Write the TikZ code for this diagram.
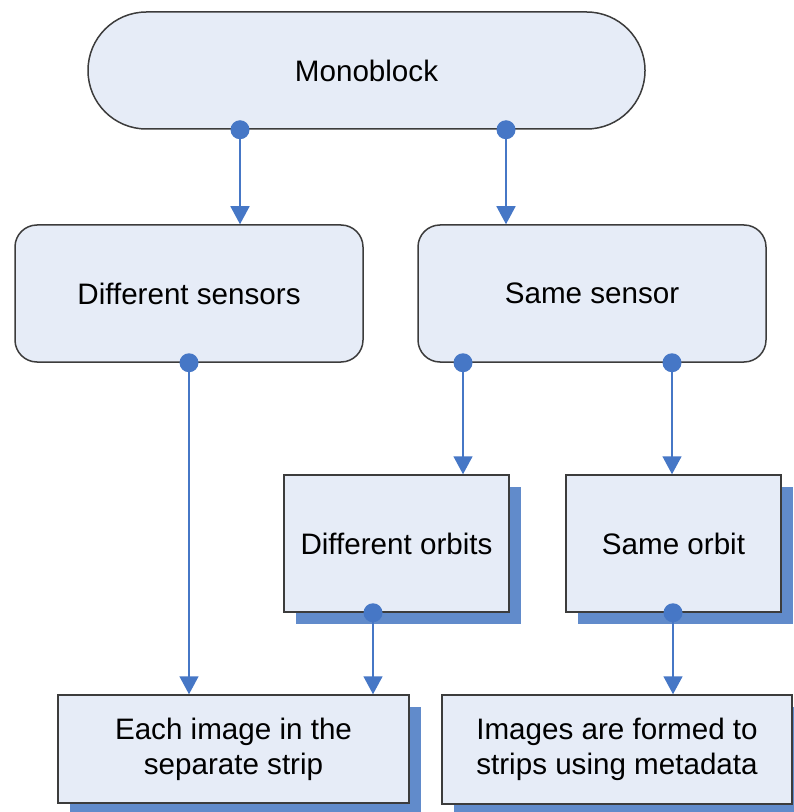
\documentclass[tikz,border=0pt]{standalone}
\usepackage{fontspec}
\setmainfont{Liberation Sans}
\definecolor{boxfill}{HTML}{E6ECF7}
\definecolor{edgegray}{HTML}{3C3C3C}
\definecolor{linkblue}{HTML}{4677C6}
\definecolor{shadeblue}{HTML}{618BCB}
\usepackage{tikz}
\usetikzlibrary{arrows.meta,shadows,calc}

\tikzset{
  block/.style={draw=edgegray,line width=0.75pt,fill=boxfill,align=center,inner sep=0pt,
    font=\fontsize{14.8}{17.5}\selectfont},
  roundblock/.style={block,rounded corners=11pt,minimum width=174pt,minimum height=68.5pt},
  shadowblock/.style={block,drop shadow={shadow xshift=6pt,shadow yshift=-6pt,fill=shadeblue,opacity=1}},
  link/.style={draw=linkblue,line width=0.8pt,-{Triangle[width=9.5pt,length=9pt]}}
}

\begin{document}
\begin{tikzpicture}[x=0.5pt,y=-0.5pt]
\useasboundingbox (0,0) rectangle (793,812);
\node[block,rounded corners=29.2pt,minimum width=278.5pt,minimum height=58.5pt] (mono) at (366.5,70.5) {Monoblock};
\node[roundblock] (diffsens) at (189,293.5) {Different sensors};
\node[roundblock] (samesens) at (592,293.5) {Same sensor};
\node[shadowblock,minimum width=112.5pt,minimum height=68.5pt] (difforb) at (396.5,543.5) {Different orbits};
\node[shadowblock,minimum width=107.5pt,minimum height=68.5pt] (sameorb) at (673.5,543.5) {Same orbit};
\node[shadowblock,minimum width=175.5pt,minimum height=54pt] (eachimg) at (233.5,749) {Each image in the\\separate strip};
\node[shadowblock,minimum width=175pt,minimum height=54.5pt] (formed) at (617,749.5) {Images are formed to\\strips using metadata};

\coordinate (m1) at (mono.south -| 240,0);
\coordinate (m2) at (mono.south -| 506,0);
\coordinate (s2) at (samesens.south -| 463,0);
\coordinate (s3) at (samesens.south -| 672,0);
\coordinate (o1) at (difforb.south -| 373,0);
\coordinate (o2) at (sameorb.south -| 673,0);

\draw[link] (m1) -- (m1 |- diffsens.north);
\draw[link] (m2) -- (m2 |- samesens.north);
\draw[link] (diffsens.south) -- (diffsens.south |- eachimg.north);
\draw[link] (s2) -- (s2 |- difforb.north);
\draw[link] (s3) -- (s3 |- sameorb.north);
\draw[link] (o1) -- (o1 |- eachimg.north);
\draw[link] (o2) -- (o2 |- formed.north);
\foreach \c in {m1,m2,diffsens.south,s2,s3,o1,o2} \fill[linkblue] (\c) circle (4.75pt);
\end{tikzpicture}
\end{document}
